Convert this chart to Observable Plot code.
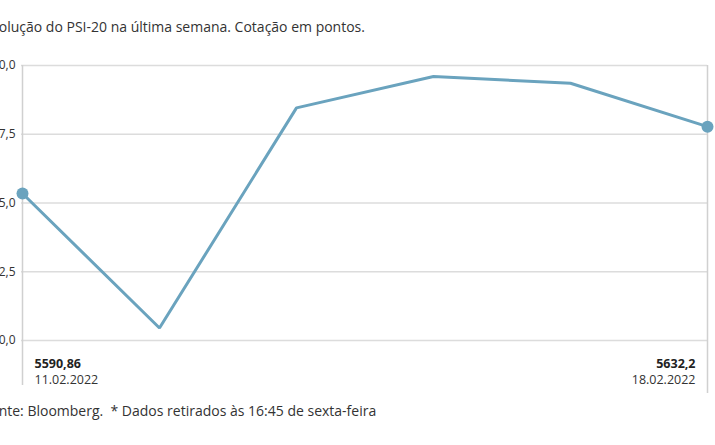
<!DOCTYPE html>
<html>
<head>
<meta charset="utf-8">
<script src="https://cdn.jsdelivr.net/npm/d3@7"></script>
<script src="https://cdn.jsdelivr.net/npm/@observablehq/plot@0.6"></script>
<style>
  html, body { margin: 0; padding: 0; background: #fff; }
  body { width: 715px; height: 445px; position: relative; overflow: hidden; font-family: "Open Sans", sans-serif; color: #333; }
  #title { position: absolute; left: -16px; top: 18px; font-size: 14px; line-height: 18px; white-space: nowrap; color: #333; }
  #chart { position: absolute; left: 0; top: 40px; }
  #caption { position: absolute; left: -17px; top: 402px; font-size: 14px; line-height: 18px; white-space: nowrap; color: #333; }
</style>
</head>
<body>
<div id="title">Evolução do PSI-20 na última semana. Cotação em pontos.</div>
<div id="chart"></div>
<div id="caption">Fonte: Bloomberg.&nbsp; * Dados retirados às 16:45 de sexta-feira</div>
<script>
const dates = ["11.02.2022", "14.02.2022", "15.02.2022", "16.02.2022", "17.02.2022", "18.02.2022"];
const values = [5590.86, 5507.7, 5643.8, 5663.2, 5659.0, 5632.2];
const yTicks = [5500, 5542.5, 5585, 5627.5, 5670];

const data = dates.map((d, i) => ({date: d, value: values[i]}));
const first = data[0];
const last = data[data.length - 1];
const fmtVal = v => String(v).replace(".", ",");
const fmtTick = v => v.toFixed(1).replace(".", ",");
const color = "#6aa3be";

const chart = Plot.plot({
  width: 715,
  height: 360,
  marginTop: 25,
  marginBottom: 60,
  marginLeft: 21,
  marginRight: 8,
  x: {type: "point", domain: dates, padding: 0, axis: null},
  y: {domain: [5500, 5670], axis: null},
  style: {fontFamily: "Open Sans, sans-serif", fontSize: "12px", color: "#333", background: "#fff"},
  marks: [
    Plot.gridY(yTicks, {stroke: "#dcdcdc", strokeOpacity: 1, strokeWidth: 1.5}),
    Plot.axisY(yTicks, {tickSize: 0, tickPadding: 6, tickFormat: fmtTick, fontSize: 12, fill: "#333", label: null}),
    Plot.ruleX([first.date], {stroke: "#d0d0d0", strokeWidth: 1.5, insetBottom: -45}),
    Plot.ruleX([last.date], {stroke: "#d0d0d0", strokeWidth: 1.5, insetBottom: -53}),
    Plot.line(data, {x: "date", y: "value", stroke: color, strokeWidth: 3, strokeLinejoin: "miter"}),
    Plot.dot([first, last], {x: "date", y: "value", r: 6, fill: color, stroke: null}),
    Plot.text([first], {x: "date", text: d => fmtVal(d.value), frameAnchor: "bottom", dy: 27, dx: 12, textAnchor: "start", fontWeight: "bold", fontSize: 12.5, fill: "#222"}),
    Plot.text([first], {x: "date", text: "date", frameAnchor: "bottom", dy: 43, dx: 12, textAnchor: "start", fontSize: 12.5, fill: "#333"}),
    Plot.text([last], {x: "date", text: d => fmtVal(d.value), frameAnchor: "bottom", dy: 27, dx: -12, textAnchor: "end", fontWeight: "bold", fontSize: 12.5, fill: "#222"}),
    Plot.text([last], {x: "date", text: "date", frameAnchor: "bottom", dy: 43, dx: -12, textAnchor: "end", fontSize: 12.5, fill: "#333"})
  ]
});
document.getElementById("chart").appendChild(chart);
</script>
</body>
</html>
